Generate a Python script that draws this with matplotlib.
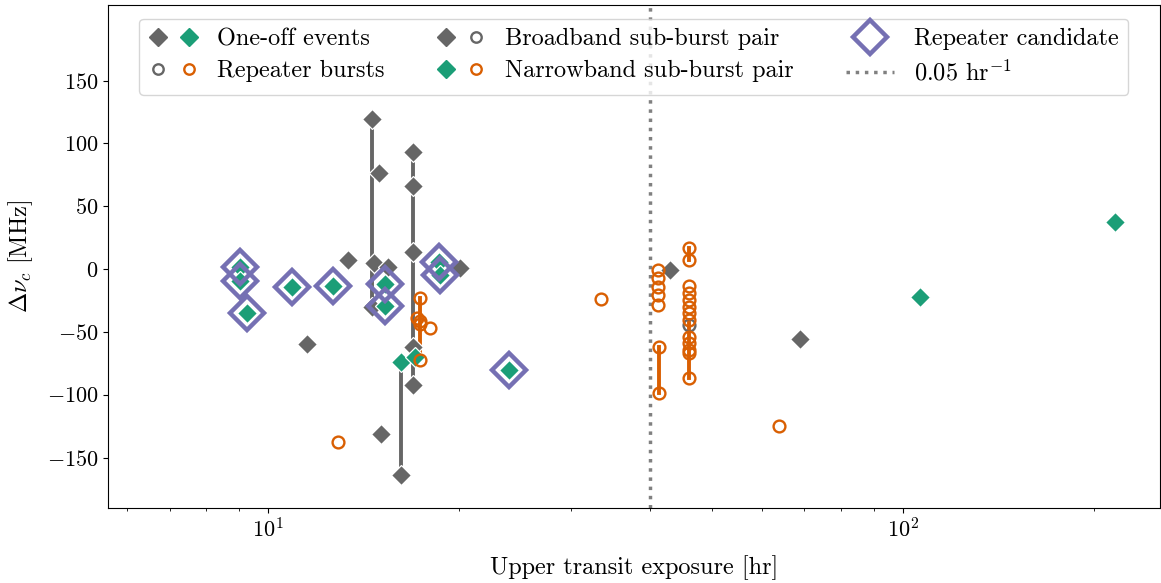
import matplotlib
matplotlib.use('Agg')
import matplotlib.pyplot as plt
from matplotlib.lines import Line2D
from matplotlib.legend_handler import HandlerTuple
from matplotlib.ticker import NullFormatter

plt.rcParams['font.family'] = 'serif'
plt.rcParams['font.serif'] = ['cmr10']
plt.rcParams['mathtext.fontset'] = 'cm'
plt.rcParams['axes.formatter.use_mathtext'] = True
plt.rcParams['axes.unicode_minus'] = False
plt.rcParams['font.size'] = 17.5
plt.rcParams['xtick.labelsize'] = 16
plt.rcParams['ytick.labelsize'] = 16

# Dark2 colours
gray = '#666666'
green = '#1b9e77'
orange = '#d95f02'
purple = '#7570b3'

# one-off / broadband events (gray diamonds)
gray_x = [14.6, 14.97, 13.38, 14.7, 15.47, 14.6, 11.53, 16.94, 16.94, 16.94,
          16.94, 16.94, 16.18, 15.1, 20.06, 42.95, 68.9]
gray_y = [119.4, 76.6, 7.2, 4.5, 1.8, -30, -59.7, 92.8, 66, 13.3,
          -61.8, -92.3, -164, -131.3, 0.5, -0.8, -56]

# narrowband one-off events (green diamonds)
green_x = [9.03, 9.03, 9.26, 10.9, 12.67, 15.29, 15.29, 18.6, 18.7, 23.96,
           16.18, 17.04, 106.4, 215.8]
green_y = [1.8, -9.3, -35.3, -14.3, -13.5, -12, -29, 5.5, -4.8, -80.4,
           -73.8, -69.8, -22, 37.4]

# repeater candidates
cand_x = [9.03, 9.03, 9.26, 10.9, 12.67, 15.29, 15.29, 18.6, 18.7, 23.96]
cand_y = [1.8, -9.3, -35.3, -14.3, -13.5, -12, -29, 5.5, -4.8, -80.4]

# repeater bursts (orange circles)
rep_x = [12.9, 17.35, 17.2, 17.35, 17.35, 17.99, 17.35, 33.5,
         41.2, 41.2, 41.2, 41.2, 41.2, 41.3, 41.3,
         46, 46, 46, 46, 46, 46, 46, 46, 46, 46, 46, 46, 46, 63.8]
rep_y = [-137.4, -22.8, -39.3, -41, -44, -47.2, -72.4, -24,
         -1, -7.4, -14, -20.7, -28.6, -62, -98.4,
         16.5, 7.2, -13.5, -19.4, -24.7, -30, -35, -40.6, -53.9, -59.1, -64.5, -67, -86.5, -125]

# repeater burst from broadband pair (gray circle)
repg_x = [46]
repg_y = [-44.6]

# connecting segments
seg_x = [14.6, 16.94, 16.18, 17.35, 41.3, 46, 46]
seg_y0 = [119.4, 92.8, -73.8, -22.8, -62, 16.5, -40.6]
seg_y1 = [-30, -92.3, -164, -72.4, -98.4, 7.2, -86.5]
seg_c = [gray, gray, gray, orange, orange, orange, orange]

rate_line = 40

fig = plt.figure(figsize=(11.61, 5.83), dpi=100)
ax = fig.add_axes([0.093, 0.129, 0.906, 0.862])

for x, y0, y1, c in zip(seg_x, seg_y0, seg_y1, seg_c):
    ax.plot([x, x], [y0, y1], color=c, lw=2.8, zorder=1)

ax.axvline(rate_line, color='gray', ls=':', lw=2.5, zorder=0)

dkw = dict(ls='none', marker='D', ms=10, mec='white', mew=0.9)
ax.plot(gray_x, gray_y, color=gray, zorder=2, **dkw)
ax.plot(green_x, green_y, color=green, zorder=3, **dkw)
ax.plot(rep_x, rep_y, ls='none', marker='o', ms=8.5, mfc='none', mec=orange, mew=1.7, zorder=3)
ax.plot(repg_x, repg_y, ls='none', marker='o', ms=8.5, mfc='none', mec=gray, mew=1.7, zorder=2.5)
ax.plot(cand_x, cand_y, ls='none', marker='D', ms=17, mfc='none', mec=purple, mew=3.2, zorder=4)

ax.set_xscale('log')
ax.set_xlim(5.6, 254)
ax.set_ylim(-190, 210)
ax.set_yticks([-150, -100, -50, 0, 50, 100, 150])
ax.xaxis.set_minor_formatter(NullFormatter())
ax.set_xlabel('Upper transit exposure [hr]', labelpad=10)
ax.set_ylabel(r'$\Delta\nu_c$ [MHz]', labelpad=8)

hg_d = Line2D([], [], ls='none', marker='D', ms=9, color=gray)
hgr_d = Line2D([], [], ls='none', marker='D', ms=9, color=green)
hg_o = Line2D([], [], ls='none', marker='o', ms=7.5, mfc='none', mec=gray, mew=1.7)
ho_o = Line2D([], [], ls='none', marker='o', ms=7.5, mfc='none', mec=orange, mew=1.7)
hc = Line2D([], [], ls='none', marker='D', ms=17, mfc='none', mec=purple, mew=3.2)
hl = Line2D([], [], color='gray', ls=':', lw=2.5)

handles = [(hg_d, hgr_d), (hg_o, ho_o), (hg_d, hg_o), (hgr_d, ho_o), hc, hl]
labels = ['One-off events', 'Repeater bursts', 'Broadband sub-burst pair',
          'Narrowband sub-burst pair', 'Repeater candidate', r'0.05 hr$^{-1}$']
ax.legend(handles, labels, loc='upper center', ncol=3,
          handler_map={tuple: HandlerTuple(ndivide=None, pad=0.5)},
          handlelength=2.0, columnspacing=2.15, labelspacing=0.4,
          borderaxespad=0.55)

fig.savefig('out.png', dpi=100)
